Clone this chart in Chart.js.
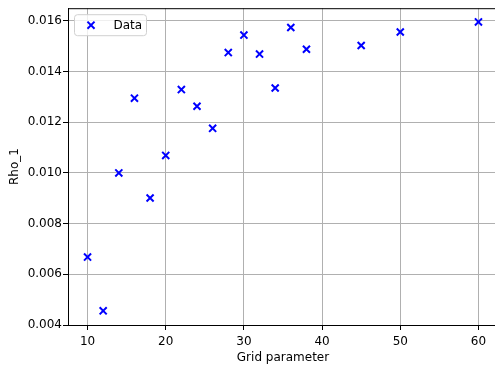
<!DOCTYPE html>
<html>
<head>
<meta charset="utf-8">
<script src="https://cdn.jsdelivr.net/npm/chart.js@4/dist/chart.umd.min.js"></script>
<style>
  html, body { margin: 0; padding: 0; overflow: hidden; background: #fff; }
  canvas { display: block; }
</style>
</head>
<body>
<canvas id="myChart" width="505" height="365"></canvas>
<script>
/* globals Chart:false */

// values
const gridParam = [10, 12, 14, 16, 18, 20, 22, 24, 26, 28, 30, 32, 34, 36, 38, 45, 50, 60];
const rho1 = [
  0.00668, 0.00456, 0.01000, 0.01295, 0.00901, 0.01069, 0.01329, 0.01263, 0.01176,
  0.01475, 0.01544, 0.01469, 0.01335, 0.01574, 0.01488, 0.01503, 0.01556, 0.01596
];
const xTicks = [10, 20, 30, 40, 50, 60];
const yTicks = [0.004, 0.006, 0.008, 0.010, 0.012, 0.014, 0.016];

(() => {
  'use strict'

  const font = { family: 'DejaVu Sans', size: 12 }

  // top spine + legend box drawn inside the plot, like matplotlib
  const frame = {
    id: 'frame',
    afterDraw (chart) {
      const { ctx, chartArea: a } = chart
      ctx.save()
      ctx.strokeStyle = '#000'
      ctx.lineWidth = 1
      ctx.beginPath()
      ctx.moveTo(a.left, a.top + 0.5)
      ctx.lineTo(a.right, a.top + 0.5)
      ctx.moveTo(a.right - 0.5, a.top)
      ctx.lineTo(a.right - 0.5, a.bottom)
      ctx.stroke()

      // legend
      const x = a.left + 6.5
      const y = a.top + 6.5
      const w = 72
      const h = 21
      ctx.fillStyle = 'rgba(255,255,255,0.8)'
      ctx.strokeStyle = '#d0d0d0'
      ctx.beginPath()
      ctx.roundRect(x, y, w, h, 3)
      ctx.fill()
      ctx.stroke()
      const ds = chart.data.datasets[0]
      ctx.strokeStyle = ds.borderColor
      ctx.lineWidth = 2
      Chart.helpers.drawPoint(ctx, {
        pointStyle: 'crossRot', radius: 5, borderWidth: 2
      }, x + 16.5, y + h / 2)
      ctx.fillStyle = '#000'
      ctx.font = '12px "DejaVu Sans"'
      ctx.textBaseline = 'middle'
      ctx.fillText(ds.label, x + 39, y + h / 2 + 0.5)
      ctx.restore()
    }
  }

  const ctx = document.getElementById('myChart')
  // eslint-disable-next-line no-unused-vars
  const myChart = new Chart(ctx, {
    type: 'scatter',
    data: {
      datasets: [{
        label: 'Data',
        data: gridParam.map((g, i) => ({ x: g, y: rho1[i] })),
        pointStyle: 'crossRot',
        radius: 5,
        hoverRadius: 5,
        borderWidth: 2,
        borderColor: '#0000ff',
        backgroundColor: '#0000ff'
      }]
    },
    options: {
      responsive: false,
      animation: false,
      layout: { padding: { top: 1, right: 4, left: 0, bottom: 0 } },
      plugins: {
        legend: { display: false },
        tooltip: { enabled: false }
      },
      scales: {
        x: {
          type: 'linear',
          min: 7.5,
          max: 62.5,
          afterBuildTicks: (s) => { s.ticks = xTicks.map(v => ({ value: v })) },
          afterFit: (s) => { s.height = 40 },
          grid: { color: '#b0b0b0', lineWidth: 1, tickColor: '#000', tickLength: 5 },
          border: { color: '#000', width: 1 },
          ticks: { color: '#000', font, padding: 5, maxRotation: 0 },
          title: { display: true, text: 'Grid parameter', color: '#000', font, padding: { top: 0, bottom: 0 } }
        },
        y: {
          min: 0.004,
          max: 0.0165,
          afterBuildTicks: (s) => { s.ticks = yTicks.map(v => ({ value: v })) },
          afterFit: (s) => { s.width = 68 },
          grid: { color: '#b0b0b0', lineWidth: 1, tickColor: '#000', tickLength: 5 },
          border: { color: '#000', width: 1 },
          ticks: { color: '#000', font, padding: 1, callback: (v) => v.toFixed(3) },
          title: { display: true, text: 'Rho_1', color: '#000', font, padding: { top: 8, bottom: 0 } }
        }
      }
    },
    plugins: [frame]
  })
})()
</script>
</body>
</html>
